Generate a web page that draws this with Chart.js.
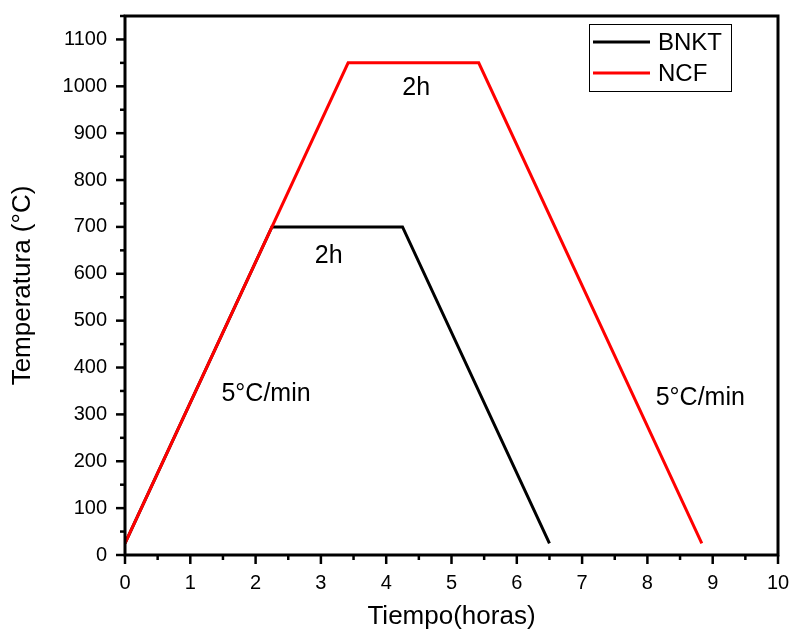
<!DOCTYPE html>
<html><head><meta charset="utf-8">
<script src="https://cdn.jsdelivr.net/npm/chart.js@4.4.0/dist/chart.umd.min.js"></script>
<style>html,body{margin:0;padding:0;background:#fff}#w{width:792px;height:630px}</style>
</head><body><div id="w"><canvas id="c" width="792" height="630"></canvas></div>
<script>
const seriesNames = ['BNKT', 'NCF'];
const bnktTime = [0, 2.25, 4.25, 6.5];
const bnktTemp = [25, 700, 700, 25];
const ncfTime = [0, 3.417, 5.417, 8.833];
const ncfTemp = [25, 1050, 1050, 25];
const xTickLabels = ['0','1','2','3','4','5','6','7','8','9','10'];
const yTickLabels = ['0','100','200','300','400','500','600','700','800','900','1000','1100'];
const annotations = [
  {text: '2h', x: 4.46, y: 996},
  {text: '2h', x: 3.12, y: 638},
  {text: '5°C/min', x: 2.16, y: 343},
  {text: '5°C/min', x: 8.81, y: 335}
];
const FONT = 'Liberation Sans, Arial, sans-serif';

const toPts = (xs, ys) => xs.map((x, i) => ({x, y: ys[i]}));

const framePlugin = {
  id: 'frame',
  afterDatasetsDraw(chart) {
    const ctx = chart.ctx, a = chart.chartArea;
    const xs = chart.scales.x, ys = chart.scales.y;
    ctx.save();
    ctx.strokeStyle = '#000';
    ctx.lineWidth = 3;
    ctx.lineCap = 'square';
    ctx.strokeRect(a.left, a.top, a.right - a.left, a.bottom - a.top);
    ctx.lineWidth = 2.5; ctx.lineCap = 'butt';
    for (let v = 0; v <= 10.001; v += 0.5) {
      const px = xs.getPixelForValue(v);
      const major = Math.abs(v - Math.round(v)) < 1e-6;
      ctx.beginPath(); ctx.moveTo(px, a.bottom); ctx.lineTo(px, a.bottom + (major ? 9 : 5)); ctx.stroke();
    }
    for (let v = 0; v <= 1150.001; v += 50) {
      const py = ys.getPixelForValue(v);
      const major = v % 100 === 0;
      ctx.beginPath(); ctx.moveTo(a.left, py); ctx.lineTo(a.left - (major ? 9 : 5), py); ctx.stroke();
    }
    ctx.fillStyle = '#000';
    ctx.font = '25px ' + FONT;
    ctx.textAlign = 'center'; ctx.textBaseline = 'middle';
    annotations.forEach(t => ctx.fillText(t.text, xs.getPixelForValue(t.x), ys.getPixelForValue(t.y)));
    const ds = chart.data.datasets;
    const lx = 589, ly = 24, lw = 142, lh = 67;
    ctx.fillStyle = '#fff'; ctx.fillRect(lx, ly, lw, lh);
    ctx.lineWidth = 1; ctx.strokeStyle = '#000';
    ctx.strokeRect(lx + 0.5, ly + 0.5, lw, lh);
    ctx.textAlign = 'left';
    ctx.font = '24px ' + FONT;
    ds.forEach((d, i) => {
      const yy = 42 + i * 31;
      ctx.strokeStyle = d.borderColor; ctx.lineWidth = 3;
      ctx.beginPath(); ctx.moveTo(593, yy); ctx.lineTo(650, yy); ctx.stroke();
      ctx.fillStyle = '#000';
      ctx.fillText(d.label, 658, yy + 1);
    });
    ctx.restore();
  }
};

const zeroPad = (s) => { s.paddingTop = 0; s.paddingBottom = 0; s.paddingLeft = 0; s.paddingRight = 0; };

new Chart(document.getElementById('c'), {
  type: 'line',
  data: {
    datasets: [
      {label: seriesNames[0], data: toPts(bnktTime, bnktTemp), borderColor: '#000000', borderWidth: 3, pointRadius: 0, fill: false, tension: 0, order: 2},
      {label: seriesNames[1], data: toPts(ncfTime, ncfTemp), borderColor: '#ff0000', borderWidth: 3, pointRadius: 0, fill: false, tension: 0, order: 1}
    ]
  },
  options: {
    responsive: false,
    animation: false,
    devicePixelRatio: 1,
    layout: {padding: {left: 0, top: 16, right: 14, bottom: 0}},
    plugins: {legend: {display: false}, tooltip: {enabled: false}},
    scales: {
      x: {
        type: 'linear', min: 0, max: 10,
        border: {display: false},
        grid: {display: false},
        ticks: {
          stepSize: 1, autoSkip: false, maxRotation: 0, padding: 8,
          color: '#000', font: {family: FONT, size: 20},
          callback: (v) => { const i = Math.round(v); return Math.abs(v - i) < 1e-6 ? xTickLabels[i] : ''; }
        },
        title: {display: true, text: 'Tiempo(horas)', color: '#000', font: {family: FONT, size: 26, lineHeight: 1}, padding: {top: 0, bottom: 0}},
        afterFit: (s) => { s.height = 75; zeroPad(s); }
      },
      y: {
        type: 'linear', min: 0, max: 1150,
        border: {display: false},
        grid: {display: false},
        ticks: {
          stepSize: 100, autoSkip: false, padding: 10,
          color: '#000', font: {family: FONT, size: 20},
          callback: (v) => { const i = Math.round(v / 100); return (v % 100 === 0 && i < yTickLabels.length) ? yTickLabels[i] : ''; }
        },
        title: {display: true, text: 'Temperatura (°C)', color: '#000', font: {family: FONT, size: 26, lineHeight: 1}, padding: {top: 10, bottom: 0}},
        afterFit: (s) => { s.width = 125; zeroPad(s); }
      }
    }
  },
  plugins: [framePlugin]
});
</script></body></html>
